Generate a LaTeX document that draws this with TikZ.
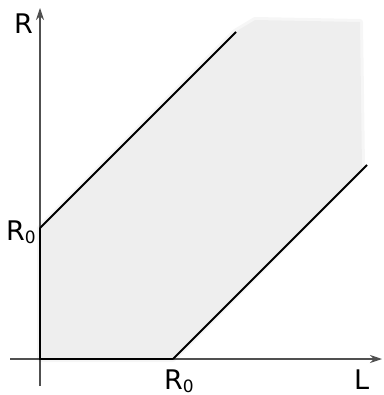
\documentclass[tikz,border=0pt]{standalone}
\usepackage{fontspec}
\setmainfont{DejaVu Sans}
\usetikzlibrary{arrows.meta}
\definecolor{regfill}{RGB}{238,238,238}
\tikzset{
  axis/.style={line width=1.1pt, draw={rgb,255:red,80;green,80;blue,80}, -{Stealth[length=12pt,width=8pt]}},
  bound/.style={line width=1.8pt, draw=black},
  lab/.style={font=\fontsize{27}{27}\selectfont, inner sep=0pt, anchor=base west}
}
\newcommand{\Rzero}{R\raisebox{-3pt}{\fontsize{17}{17}\selectfont 0}}
\begin{document}
\begin{tikzpicture}[x=1pt,y=-1pt]
\useasboundingbox (0,0) rectangle (383,395);
% shaded region
\fill[fill=regfill, draw=regfill, line width=6pt, draw opacity=0.5, line join=round]
  (40,359) -- (173,359) -- (362,168) -- (360,22) -- (255,20) -- (235,32) -- (40,228) -- cycle;
\coordinate (O) at (40,359);
\coordinate (ybot) at (40,386);
\coordinate (ytop) at (40,8);
\coordinate (xl) at (10,359);
\coordinate (xr) at (382,359);
\coordinate (Ry) at (40,228);
\coordinate (Rx) at (173,359);
\coordinate (Uend) at (236,32);
\coordinate (Lend) at (367,165);
\draw[axis] (ybot) -- (ytop);
\draw[axis] (xl) -- (xr);
\draw[bound] (Ry) -- (O) -- (Rx);
\draw[bound] (Ry) -- (Uend);
\draw[bound] (Rx) -- (Lend);
\node[lab] (lR) at (14,34) {R};
\node[lab] (lRy) at (6,240) {\Rzero};
\node[lab] (lRx) at (164,389) {\Rzero};
\node[lab] (lL) at (354,389) {L};
\end{tikzpicture}
\end{document}
